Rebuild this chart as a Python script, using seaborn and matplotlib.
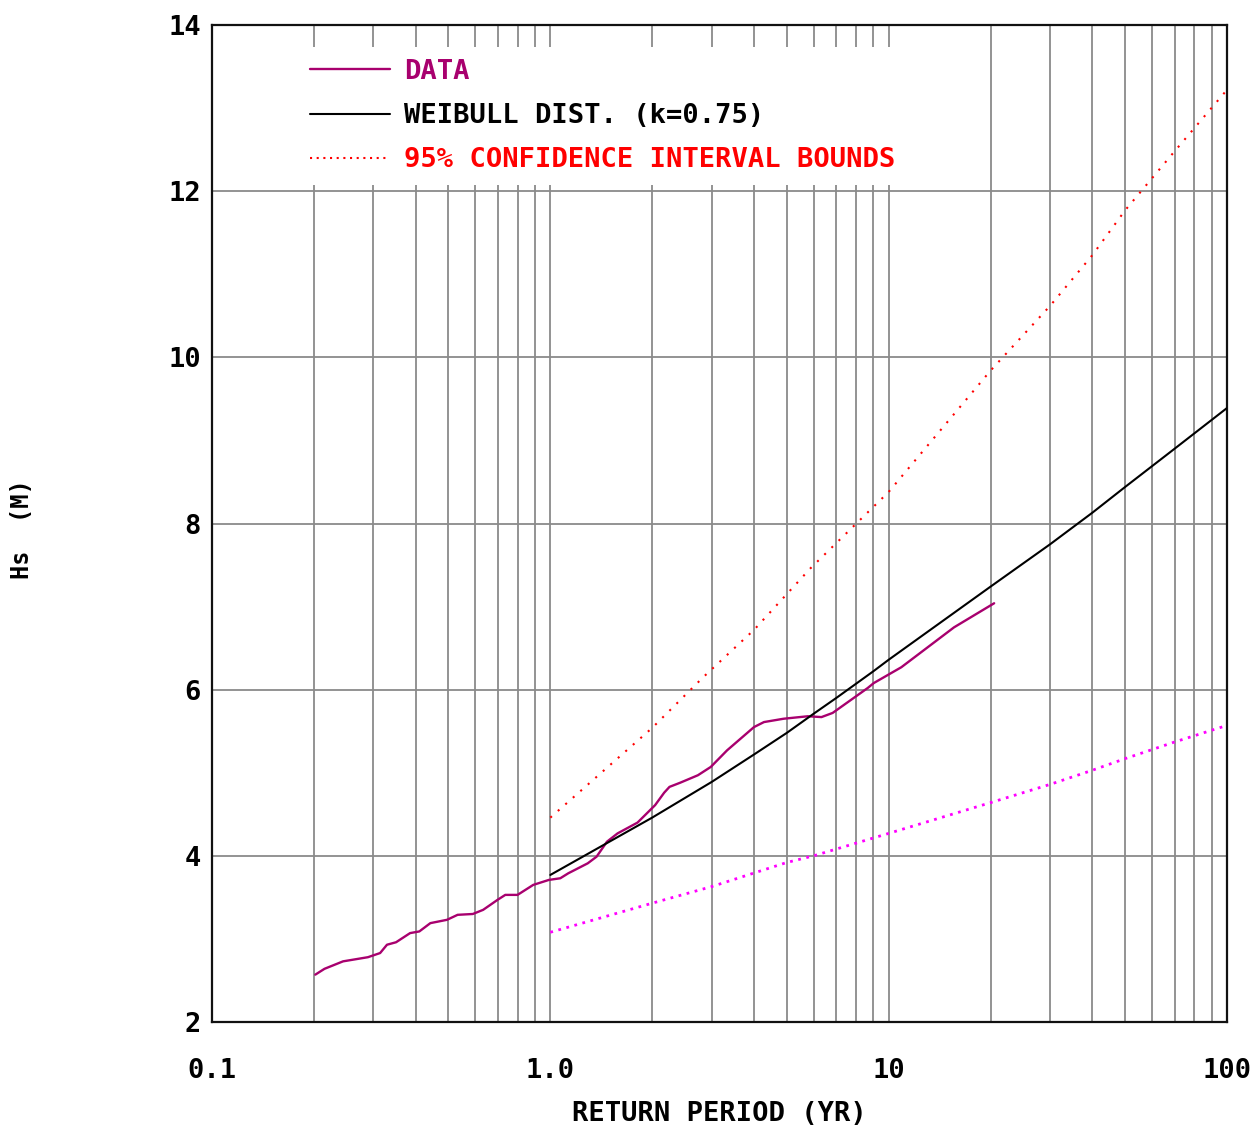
import numpy as np
import pandas as pd
import matplotlib
matplotlib.use("Agg")
import matplotlib.pyplot as plt
from matplotlib.ticker import LogLocator, FixedLocator, NullFormatter
from matplotlib.lines import Line2D
import seaborn as sns

# ---------------- data ----------------
data_T = [0.202, 0.215, 0.244, 0.289, 0.314, 0.329, 0.35, 0.385, 0.41, 0.442,
          0.495, 0.532, 0.59, 0.633, 0.698, 0.736, 0.80, 0.89, 0.99, 1.07,
          1.13, 1.29, 1.37, 1.47, 1.58, 1.81, 2.04, 2.17, 2.25, 2.42,
          2.73, 2.98, 3.33, 4.0, 4.28, 4.89, 5.77, 6.33, 6.83, 8.67,
          9.04, 10.9, 15.6, 20.5]
data_H = [2.57, 2.64, 2.73, 2.78, 2.83, 2.93, 2.96, 3.07, 3.09, 3.19,
          3.23, 3.29, 3.30, 3.35, 3.47, 3.53, 3.53, 3.65, 3.71, 3.73,
          3.79, 3.91, 3.99, 4.17, 4.27, 4.40, 4.61, 4.76, 4.83, 4.88,
          4.97, 5.07, 5.27, 5.55, 5.61, 5.65, 5.68, 5.67, 5.72, 6.02,
          6.08, 6.27, 6.75, 7.04]

weib_T = [1, 2, 3, 4, 5, 6, 7, 8, 9, 10, 20, 30, 40, 50, 70, 100]
weib_H = [3.77, 4.46, 4.89, 5.22, 5.48, 5.71, 5.90, 6.07, 6.22, 6.36,
          7.24, 7.75, 8.13, 8.44, 8.90, 9.39]

upper_T = [1, 2, 2.83, 4, 5.87, 10, 20, 30, 40, 50, 70, 100]
upper_H = [4.46, 5.54, 6.15, 6.72, 7.46, 8.38, 9.84, 10.62, 11.23, 11.77, 12.48, 13.22]

lower_T = [1, 2, 3, 5, 6, 10, 20, 30, 40, 50, 70, 100]
lower_H = [3.08, 3.43, 3.63, 3.92, 4.00, 4.27, 4.64, 4.86, 5.03, 5.17, 5.37, 5.57]

x_ticks = [0.1, 1.0, 10, 100]
x_ticklabels = ["0.1", "1.0", "10", "100"]
y_ticks = [2, 4, 6, 8, 10, 12, 14]
legend_labels = ["DATA", "WEIBULL DIST. (k=0.75)", "95% CONFIDENCE INTERVAL BOUNDS"]

# ---------------- style ----------------
sns.set_style("white")
plt.rcParams["font.family"] = ["DejaVu Sans Mono", "DejaVu Sans"]
plt.rcParams["font.weight"] = "bold"
for k in ["text.color", "axes.labelcolor", "xtick.color", "ytick.color"]:
    plt.rcParams[k] = "black"

C_DATA = "#A8006E"
C_WEIB = "#000000"
C_UP = "#FF0000"
C_LOW = "#FF00FF"
FS = 19.5

fig = plt.figure(figsize=(12.55, 11.33), dpi=100)
ax = fig.add_axes([212 / 1255, 1 - 1022 / 1133, 1015 / 1255, 997 / 1133])

sns.lineplot(x=data_T, y=data_H, ax=ax, color=C_DATA, lw=1.7, zorder=5)
sns.lineplot(x=weib_T, y=weib_H, ax=ax, color=C_WEIB, lw=1.5, zorder=6)
sns.lineplot(x=upper_T, y=upper_H, ax=ax, color=C_UP, lw=1.5,
             linestyle=(0, (1, 3.8)), zorder=4)
sns.lineplot(x=lower_T, y=lower_H, ax=ax, color=C_LOW, lw=2.0,
             linestyle=(0, (1, 2)), zorder=4)

ax.set_xscale("log")
ax.set_xlim(0.1, 100)
ax.set_ylim(2, 14)

ax.xaxis.set_major_locator(FixedLocator(x_ticks))
ax.set_xticklabels(x_ticklabels)
ax.xaxis.set_minor_locator(LogLocator(base=10, subs=np.arange(2, 10)))
ax.xaxis.set_minor_formatter(NullFormatter())
ax.set_yticks(y_ticks)
ax.set_yticklabels([str(v) for v in y_ticks])

ax.grid(True, which="both", axis="x", color="#8a8a8a", lw=1.3)
ax.grid(True, which="major", axis="y", color="#8a8a8a", lw=1.3)

ax.tick_params(axis="both", which="both", length=0, colors="black")
ax.tick_params(axis="x", pad=26, labelsize=FS)
ax.tick_params(axis="y", pad=8, labelsize=FS)
for lab in ax.get_xticklabels() + ax.get_yticklabels():
    lab.set_fontweight("bold")

for s in ax.spines.values():
    s.set_visible(True)
    s.set_color("#111111")
    s.set_linewidth(1.6)

ax.set_xlabel("RETURN PERIOD (YR)", fontsize=FS, fontweight="bold",
              labelpad=12, color="black")
ax.set_ylabel("")
fig.text(22 / 1255, 1 - 529 / 1133, "Hs  (M)", rotation=90, fontsize=17,
         fontweight="bold", ha="center", va="center", color="black")

handles = [
    Line2D([], [], color=C_DATA, lw=1.7),
    Line2D([], [], color=C_WEIB, lw=1.5),
    Line2D([], [], color=C_UP, lw=1.5, linestyle=(0, (1, 2.2))),
]
leg = ax.legend(handles, legend_labels, loc="upper left",
                bbox_to_anchor=((298 - 212) / 1015, (1022 - 47) / 997),
                borderaxespad=0, borderpad=0.43, frameon=True, fancybox=False,
                facecolor="white", edgecolor="none", framealpha=1.0,
                handlelength=2.95, handletextpad=0.55, labelspacing=0.68,
                prop={"family": "DejaVu Sans Mono", "weight": "bold", "size": FS},
                labelcolor=[C_DATA, C_WEIB, C_UP])
leg.set_zorder(10)

fig.savefig("out.png", dpi=100)
